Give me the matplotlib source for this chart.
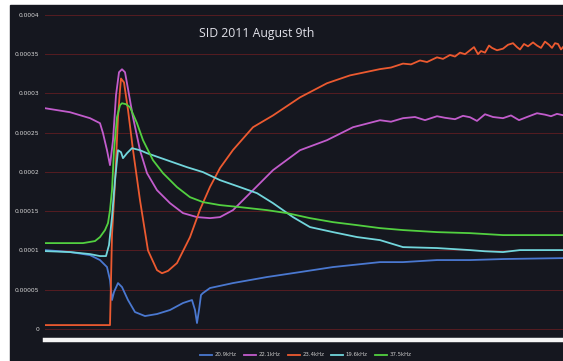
import matplotlib
matplotlib.use("Agg")
import matplotlib.pyplot as plt
from matplotlib.patches import Rectangle

# Time in minutes since the start of the record
t_209 = [0, 12.5, 22.5, 27.5, 31, 32.5, 33.5, 34.5, 36.5, 38.5, 41.5, 45, 50, 56,
         62.5, 69, 73.5, 75, 76, 77, 78, 79, 82.5, 94, 111, 127.5, 144, 167.5,
         179, 196, 212.5, 229, 259]
v_209 = [0.0001005, 0.0000980, 0.0000941, 0.0000878, 0.0000789, 0.0000623,
         0.0000369, 0.0000471, 0.0000585, 0.0000534, 0.0000369, 0.0000216,
         0.0000165, 0.0000191, 0.0000242, 0.0000331, 0.0000369, 0.0000242,
         0.0000076, 0.0000242, 0.0000433, 0.0000458, 0.0000522, 0.0000585,
         0.0000662, 0.0000725, 0.0000789, 0.0000852, 0.0000852, 0.0000878,
         0.0000878, 0.0000891, 0.0000903]

t_221 = [0, 12.5, 22.5, 27.5, 29, 31, 32.5, 34, 35.5, 37, 38.5, 40, 41, 44, 47.5,
         51, 56, 62.5, 69, 76, 82.5, 87.5, 94, 104, 114, 127.5, 141, 154, 167.5,
         173, 179, 185, 190, 196, 200, 205, 209, 212.5, 216, 220, 224, 229, 233,
         237, 241, 246, 250, 253, 256, 259]
v_221 = [0.0002812, 0.0002761, 0.0002685, 0.0002621, 0.0002494, 0.0002277,
         0.0002087, 0.0002405, 0.0002977, 0.0003270, 0.0003308, 0.0003270,
         0.0003130, 0.0002697, 0.0002277, 0.0001985, 0.0001768, 0.0001603,
         0.0001476, 0.0001425, 0.0001412, 0.0001425, 0.0001514, 0.0001768,
         0.0002023, 0.0002277, 0.0002405, 0.0002570, 0.0002659, 0.0002640,
         0.0002685, 0.0002700, 0.0002660, 0.0002710, 0.0002690, 0.0002672,
         0.0002715, 0.0002697, 0.0002650, 0.0002735, 0.0002700, 0.0002685,
         0.0002720, 0.0002660, 0.0002700, 0.0002748, 0.0002730, 0.0002710,
         0.0002740, 0.0002723]

t_234 = [0, 32.5, 33, 33.5, 35, 36.5, 37.5, 38, 39.5, 41.5, 44, 47.5, 51.5, 56,
         58.5, 61.5, 66, 72.5, 77.5, 82.5, 87.5, 94, 104, 114, 127.5, 141, 152.5,
         160, 167.5, 173, 179, 183, 187.5, 191, 196, 199, 202.5, 205, 207.5,
         210, 212.5, 214.5, 216.5, 218, 220, 222, 223.5, 226, 229, 231.5, 234,
         236, 237.5, 239.5, 241.5, 244, 246, 248, 250, 252, 253.5, 255, 256.5,
         258, 259]
v_234 = [0.0000050, 0.0000050, 0.0000620, 0.0001200, 0.0001860, 0.0002700,
         0.0003040, 0.0003190, 0.0003140, 0.0002790, 0.0002280, 0.0001640,
         0.0001000, 0.0000750, 0.0000710, 0.0000740, 0.0000840, 0.0001170,
         0.0001520, 0.0001810, 0.0002050, 0.0002280, 0.0002570, 0.0002720,
         0.0002950, 0.0003130, 0.0003230, 0.0003270, 0.0003310, 0.0003330,
         0.0003380, 0.0003370, 0.0003420, 0.0003400, 0.0003460, 0.0003440,
         0.0003490, 0.0003470, 0.0003520, 0.0003500, 0.0003550, 0.0003590,
         0.0003500, 0.0003540, 0.0003520, 0.0003610, 0.0003580, 0.0003550,
         0.0003570, 0.0003620, 0.0003640, 0.0003590, 0.0003560, 0.0003630,
         0.0003600, 0.0003650, 0.0003610, 0.0003580, 0.0003660, 0.0003620,
         0.0003580, 0.0003640, 0.0003630, 0.0003560, 0.0003590]

t_196 = [0, 12.5, 22.5, 27.5, 30.5, 32, 33.5, 35, 36.5, 38, 39, 41, 43.5, 47.5,
         51, 61, 71, 79, 87.5, 97.5, 106, 114, 124, 132.5, 144, 156, 167.5, 179,
         196, 212.5, 220, 229, 237.5, 259]
v_196 = [0.0000992, 0.0000980, 0.0000954, 0.0000929, 0.0000929, 0.0001069,
         0.0001425, 0.0001896, 0.0002277, 0.0002252, 0.0002176, 0.0002239,
         0.0002303, 0.0002277, 0.0002239, 0.0002150, 0.0002061, 0.0001998,
         0.0001896, 0.0001807, 0.0001730, 0.0001603, 0.0001425, 0.0001298,
         0.0001234, 0.0001171, 0.0001132, 0.0001043, 0.0001031, 0.0001005,
         0.0000990, 0.0000980, 0.0001005, 0.0001005]

t_375 = [0, 19, 25, 27.5, 30, 31.5, 32.5, 33.5, 34.5, 36, 37.5, 38.5, 40.5, 42.5,
         46, 49, 54, 59, 66, 72.5, 79, 87.5, 97.5, 111, 121, 132.5, 144, 156,
         167.5, 179, 196, 212.5, 229, 259]
v_375 = [0.0001094, 0.0001094, 0.0001120, 0.0001171, 0.0001260, 0.0001349,
         0.0001514, 0.0001768, 0.0002277, 0.0002697, 0.0002850, 0.0002875,
         0.0002863, 0.0002825, 0.0002621, 0.0002405, 0.0002150, 0.0001985,
         0.0001807, 0.0001679, 0.0001616, 0.0001578, 0.0001552, 0.0001514,
         0.0001476, 0.0001412, 0.0001361, 0.0001323, 0.0001285, 0.0001260,
         0.0001234, 0.0001221, 0.0001196, 0.0001196]

labels = ["20.9kHz", "22.1kHz", "23.4kHz", "19.6kHz", "37.5kHz"]
colors = ["#4a78d0", "#c25ccc", "#ec5a30", "#72d6dc", "#52d040"]
y_ticks = [0, 0.00005, 0.0001, 0.00015, 0.0002, 0.00025, 0.0003, 0.00035, 0.0004]
y_tick_labels = ["0", "0.00005", "0.0001", "0.00015", "0.0002", "0.00025",
                 "0.0003", "0.00035", "0.0004"]

bg = "#15171f"
W, H = 563, 361
fig = plt.figure(figsize=(W / 100, H / 100), dpi=100, facecolor="white")
fig.patches.append(Rectangle((10 / W, 0), 1 - 10 / W, (H - 5) / H,
                             transform=fig.transFigure, color=bg, zorder=-10))

ax = fig.add_axes([45 / W, (H - 340) / H, 1 - 45 / W, (340 - 11) / H])
ax.set_zorder(1)
ax.patch.set_alpha(0)

series = [(t_209, v_209), (t_221, v_221), (t_234, v_234), (t_196, v_196), (t_375, v_375)]
for (t, v), lab, c in zip(series, labels, colors):
    ax.plot(t, v, color=c, lw=1.3, label=lab, zorder=3)

ax.set_xlim(0, 259)
ax.set_ylim(-0.000014, 0.000405)
ax.set_yticks(y_ticks)
ax.set_yticklabels(y_tick_labels)
ax.tick_params(axis="y", length=0, pad=4, labelsize=4.3, labelcolor="#d8d8d8")
ax.set_xticks([])
ax.grid(axis="y", color="#561d22", lw=0.7, zorder=1)
for s in ["left", "right", "top"]:
    ax.spines[s].set_visible(False)
ax.spines["bottom"].set_color("#f4f4f4")
ax.spines["bottom"].set_linewidth(3.2)

fig.text(257 / W, (H - 33) / H, "SID 2011 August 9th", color="#e0e0e8",
         fontsize=8.8, ha="center", va="center", family="Open Sans")

fig.legend(loc="center", bbox_to_anchor=(306 / W, (H - 355) / H), ncol=5,
           frameon=False, fontsize=3.9, handlelength=2.2, columnspacing=1.3,
           handletextpad=0.5, labelcolor="#c8c8c8")

fig.savefig("out.png", dpi=100, facecolor="white")
